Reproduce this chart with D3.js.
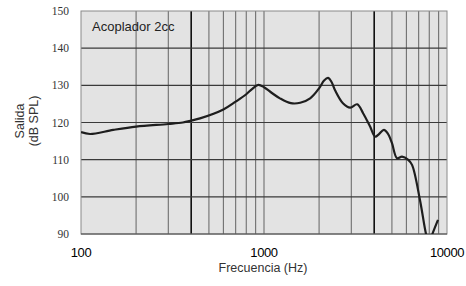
<!DOCTYPE html>
<html>
<head>
<meta charset="utf-8">
<script src="https://cdn.jsdelivr.net/npm/d3@7"></script>
<style>
  body { margin: 0; background: #fff; }
  svg { display: block; }
</style>
</head>
<body>
<svg id="chart" width="466" height="286"></svg>
<script>
// frequency response
const freqs = [100, 112, 150, 200, 300, 360, 400, 447, 600, 700, 800, 860, 930, 1000,
  1100, 1222, 1401, 1577, 1787, 2000, 2130, 2240, 2340, 2445, 2700, 2960, 3230, 3480, 3800,
  4050, 4250, 4520, 4750, 5000, 5330, 5680, 6120, 6440, 7120, 7680, 7990, 8280, 8930];
const output = [117.4, 116.9, 118, 118.9, 119.6, 120, 120.5, 121.1, 123.5, 125.6, 127.6, 129, 130.1, 129.5,
  128, 126.5, 125.2, 125.3, 126.5, 129.2, 131.3, 132, 130.9, 128.7, 125.2, 124, 124.9, 122.5, 118.9,
  116.2, 116.9, 118, 117, 114.5, 110.4, 110.8, 110, 108.6, 99.1, 90, 87.2, 89.7, 93.8];

const yTicks = [90, 100, 110, 120, 130, 140, 150];
const xLabels = [100, 1000, 10000];
const minorFreqs = [200, 300, 500, 600, 700, 800, 900, 1000, 2000, 3000, 5000, 6000, 7000, 8000, 9000];
const majorFreqs = [400, 4000];

const margin = {left: 81, right: 19, top: 11, bottom: 52};
const width = 466 - margin.left - margin.right;
const height = 286 - margin.top - margin.bottom;

const svg = d3.select('#chart');
const g = svg.append('g')
    .attr('transform', `translate(${margin.left},${margin.top})`);

const x = d3.scaleLog().domain([100, 10000]).range([0, width]);
const y = d3.scaleLinear().domain([90, 150]).range([height, 0]);

// plot background
g.append('rect')
    .attr('width', width)
    .attr('height', height)
    .attr('fill', '#e3e3e3');

// vertical grid
g.append('g')
    .selectAll('line')
    .data(minorFreqs)
    .join('line')
    .attr('x1', (d) => x(d)).attr('x2', (d) => x(d))
    .attr('y1', 0).attr('y2', height)
    .attr('stroke', '#6f6f6f')
    .attr('stroke-width', 1.1);

g.append('g')
    .selectAll('line')
    .data(majorFreqs)
    .join('line')
    .attr('x1', (d) => x(d)).attr('x2', (d) => x(d))
    .attr('y1', 0).attr('y2', height)
    .attr('stroke', '#000')
    .attr('stroke-width', 1.5);

// horizontal grid
g.append('g')
    .selectAll('line')
    .data(yTicks.slice(1, -1))
    .join('line')
    .attr('x1', 0).attr('x2', width)
    .attr('y1', (d) => y(d)).attr('y2', (d) => y(d))
    .attr('stroke', '#3a3a3a')
    .attr('stroke-width', 1.2);

// frame
g.append('rect')
    .attr('width', width)
    .attr('height', height)
    .attr('fill', 'none')
    .attr('stroke', '#8a8a8a')
    .attr('stroke-width', 1);
g.append('line')
    .attr('x1', 0).attr('x2', width)
    .attr('y1', height).attr('y2', height)
    .attr('stroke', '#444');

// curve, clipped to the plot
svg.append('defs').append('clipPath')
    .attr('id', 'plotclip')
    .append('rect')
    .attr('width', width)
    .attr('height', height);

const line = d3.line()
    .x((d, i) => x(freqs[i]))
    .y((d) => y(d))
    .curve(d3.curveCatmullRom.alpha(0.5));

g.append('path')
    .datum(output)
    .attr('clip-path', 'url(#plotclip)')
    .attr('d', line)
    .attr('fill', 'none')
    .attr('stroke', '#1e1e1e')
    .attr('stroke-width', 2.2)
    .attr('stroke-linejoin', 'round');

// y tick labels
g.append('g')
    .attr('font-family', '"Liberation Serif", serif')
    .attr('font-size', 11.5)
    .attr('fill', '#333')
    .attr('text-anchor', 'end')
    .selectAll('text')
    .data(yTicks)
    .join('text')
    .attr('x', -12)
    .attr('y', (d) => y(d) + 4)
    .text((d) => d);

// x tick labels
g.append('g')
    .attr('font-family', '"Liberation Sans", Arial, sans-serif')
    .attr('font-size', 13)
    .attr('fill', '#000')
    .attr('text-anchor', 'middle')
    .attr('letter-spacing', -0.4)
    .selectAll('text')
    .data(xLabels)
    .join('text')
    .attr('x', (d) => x(d))
    .attr('y', height + 23)
    .text((d) => d);

// axis titles
svg.append('text')
    .attr('x', 263)
    .attr('y', 272)
    .attr('text-anchor', 'middle')
    .attr('font-family', '"Liberation Sans", Arial, sans-serif')
    .attr('font-size', 12.5)
    .attr('fill', '#333')
    .text('Frecuencia (Hz)');

const ylab = svg.append('text')
    .attr('transform', 'translate(24,121) rotate(-90)')
    .attr('text-anchor', 'middle')
    .attr('font-family', '"Liberation Sans", Arial, sans-serif')
    .attr('font-size', 12.5)
    .attr('fill', '#333');
ylab.append('tspan').attr('x', 0).attr('dy', 0).text('Salida');
ylab.append('tspan').attr('x', 0).attr('dy', 14).text('(dB SPL)');

// coupler note
g.append('text')
    .attr('x', 11)
    .attr('y', 20)
    .attr('font-family', '"Liberation Sans", Arial, sans-serif')
    .attr('font-size', 13)
    .attr('fill', '#222')
    .text('Acoplador 2cc');
</script>
</body>
</html>
